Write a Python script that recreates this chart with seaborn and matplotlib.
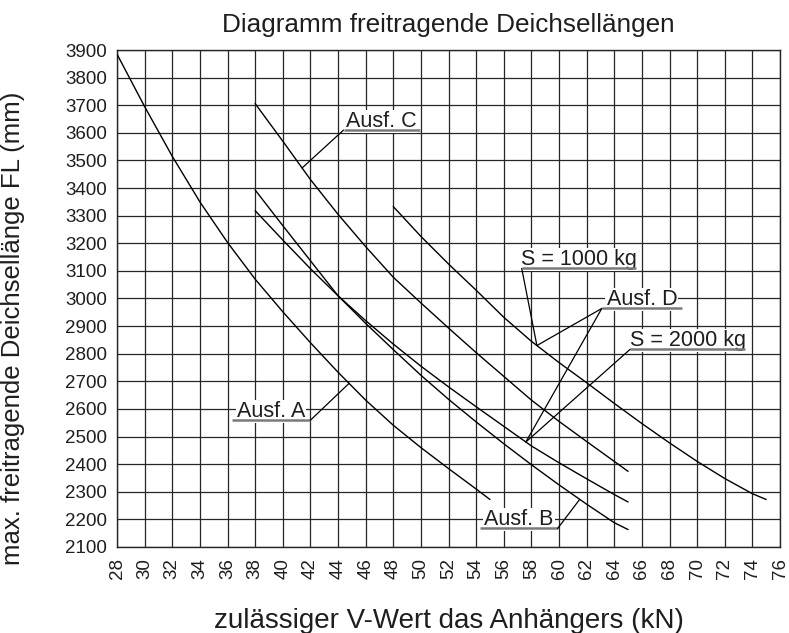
import numpy as np
import pandas as pd
import matplotlib
matplotlib.use('Agg')
import matplotlib.pyplot as plt
import seaborn as sns

# V-Wert (kN) -> max. freitragende Deichsellaenge FL (mm)
ausf_a_v = [28, 30, 32, 34, 36, 38, 40, 42, 44, 46, 48, 50, 52, 54, 55]
ausf_a_fl = [3885, 3695, 3515, 3350, 3203, 3070, 2952, 2840, 2733, 2632, 2541, 2460, 2384, 2310, 2272]

ausf_b_v = [38, 40, 42, 44, 46, 48, 50, 52, 54, 56, 58, 60, 62, 64, 65]
ausf_b_fl = [3393, 3264, 3137, 3010, 2910, 2815, 2722, 2635, 2553, 2474, 2398, 2325, 2255, 2188, 2163]

ausf_c_v = [38, 40, 42, 44, 46, 48, 50, 52, 54, 56, 58, 60, 62, 64, 65]
ausf_c_fl = [3706, 3570, 3431, 3305, 3188, 3077, 2984, 2893, 2804, 2718, 2632, 2555, 2482, 2410, 2374]

ausf_d1000_v = [48, 50, 52, 54, 56, 58, 60, 62, 64, 66, 68, 70, 72, 74, 75]
ausf_d1000_fl = [3333, 3225, 3125, 3030, 2932, 2845, 2768, 2695, 2620, 2547, 2477, 2410, 2348, 2293, 2272]

ausf_d2000_v = [38, 40, 42, 44, 46, 48, 50, 52, 54, 56, 58, 60, 62, 64, 65]
ausf_d2000_fl = [3318, 3212, 3108, 3010, 2920, 2835, 2755, 2680, 2608, 2537, 2466, 2405, 2347, 2290, 2263]

x_ticks = list(range(28, 77, 2))
y_ticks = list(range(2100, 3901, 100))

series = {
    'A': (ausf_a_v, ausf_a_fl),
    'B': (ausf_b_v, ausf_b_fl),
    'C': (ausf_c_v, ausf_c_fl),
    'D1000': (ausf_d1000_v, ausf_d1000_fl),
    'D2000': (ausf_d2000_v, ausf_d2000_fl),
}

# Beschriftungen: Text, Unterstrich (x0, x1, y), Ende fuer Hinweislinie, Ziele (Kurve, V)
labels = [
    ('Ausf. A', 36.3, 42.0, 2559, 'right', [('A', 44.8)]),
    ('Ausf. B', 54.3, 59.9, 2167, 'right', [('B', 61.5)]),
    ('Ausf. C', 44.4, 49.9, 3610, 'left', [('C', 41.4)]),
    ('Ausf. D', 63.1, 68.9, 2964, 'left', [('D1000', 58.4), ('D2000', 57.6)]),
    ('S = 1000 kg', 57.3, 65.6, 3109, 'left', [('D1000', 58.4)]),
    ('S = 2000 kg', 65.15, 73.5, 2816, 'left', [('D2000', 57.6)]),
]

sns.set_theme(style='white')
plt.rcParams['font.family'] = ['Liberation Sans', 'DejaVu Sans']
txt_color = '#1e1e1e'

fig = plt.figure(figsize=(7.89, 6.33), dpi=100)
ax = fig.add_axes([0.1483, 0.1359, 0.8403, 0.7851])

df = pd.concat(
    [pd.DataFrame({'V': v, 'FL': fl, 'curve': name}) for name, (v, fl) in series.items()],
    ignore_index=True,
)
for name in series:
    sns.lineplot(data=df[df['curve'] == name], x='V', y='FL', color='black',
                 linewidth=1.0, ax=ax, zorder=3)

ax.set_xlim(28, 76)
ax.set_ylim(2100, 3900)
ax.set_xticks(x_ticks)
ax.set_yticks(y_ticks)
ax.set_xticklabels([str(t) for t in x_ticks], rotation=90, fontsize=13.5, color=txt_color)
ax.set_yticklabels([str(t) for t in y_ticks], fontsize=13.5, color=txt_color)
ax.tick_params(axis='both', length=0)
ax.tick_params(axis='x', pad=8)
ax.tick_params(axis='y', pad=7)
ax.grid(True, color='#262626', linewidth=0.9)
for s in ax.spines.values():
    s.set_color('#262626')
    s.set_linewidth(1.0)

ax.set_title('Diagramm freitragende Deichsellängen', fontsize=18.8, color=txt_color, pad=13)
ax.set_xlabel('zulässiger V-Wert das Anhängers (kN)', fontsize=20, color=txt_color, labelpad=21)
ax.set_ylabel('max. freitragende Deichsellänge FL (mm)', fontsize=18.5, color=txt_color)
ax.yaxis.set_label_coords(-0.139, 0.44)

for text, x0, x1, y, end, targets in labels:
    ax.text((x0 + x1) / 2, y + 12, text, fontsize=15.5, color=txt_color,
            ha='center', va='baseline', zorder=4,
            bbox=dict(boxstyle='square,pad=0.05', facecolor='white', edgecolor='none'))
    ax.plot([x0, x1], [y, y], color='#7a7a7a', linewidth=1.8, zorder=5,
            solid_capstyle='butt')
    sx = x0 if end == 'left' else x1
    for curve, tx in targets:
        v, fl = series[curve]
        ty = np.interp(tx, v, fl)
        ax.plot([sx, tx], [y, ty], color='black', linewidth=0.9, zorder=5)

fig.savefig('out.png', dpi=100)
